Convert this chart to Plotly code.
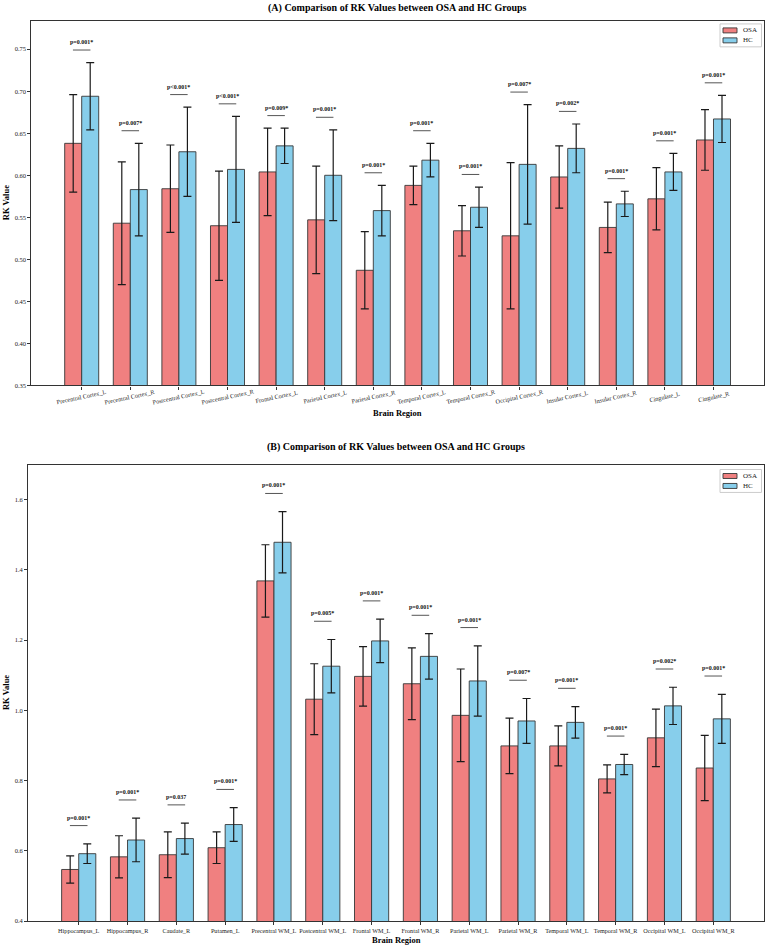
import plotly.graph_objects as go

# ---------------- data ----------------
top_regions = ["Precentral Cortex_L", "Precentral Cortex_R", "Postcentral Cortex_L", "Postcentral Cortex_R",
               "Frontal Cortex_L", "Parietal Cortex_L", "Parietal Cortex_R", "Temporal Cortex_L",
               "Temporal Cortex_R", "Occipital Cortex_R", "Insular Cortex_L", "Insular Cortex_R",
               "Cingulate_L", "Cingulate_R"]
top_osa_mean = [0.638, 0.543, 0.584, 0.540, 0.604, 0.547, 0.487, 0.588, 0.534, 0.528, 0.598, 0.538, 0.572, 0.642]
top_osa_sd = [0.058, 0.073, 0.052, 0.065, 0.052, 0.064, 0.046, 0.023, 0.030, 0.087, 0.037, 0.030, 0.037, 0.036]
top_hc_mean = [0.694, 0.583, 0.628, 0.607, 0.635, 0.600, 0.558, 0.618, 0.562, 0.613, 0.632, 0.566, 0.604, 0.667]
top_hc_sd = [0.040, 0.055, 0.053, 0.063, 0.021, 0.054, 0.030, 0.020, 0.024, 0.071, 0.029, 0.015, 0.022, 0.028]
top_p = ["p=0.001*", "p=0.007*", "p<0.001*", "p<0.001*", "p=0.009*", "p=0.001*", "p=0.001*", "p=0.001*",
         "p=0.001*", "p=0.007*", "p=0.002*", "p=0.001*", "p=0.001*", "p=0.001*"]
top_yticks = [0.35, 0.40, 0.45, 0.50, 0.55, 0.60, 0.65, 0.70, 0.75]

bot_regions = ["Hippocampus_L", "Hippocampus_R", "Caudate_R", "Putamen_L", "Precentral WM_L", "Postcentral WM_L",
               "Frontal WM_L", "Frontal WM_R", "Parietal WM_L", "Parietal WM_R", "Temporal WM_L", "Temporal WM_R",
               "Occipital WM_L", "Occipital WM_R"]
bot_osa_mean = [0.547, 0.583, 0.589, 0.609, 1.369, 1.032, 1.097, 1.076, 0.986, 0.899, 0.899, 0.805, 0.922, 0.836]
bot_osa_sd = [0.039, 0.060, 0.065, 0.045, 0.103, 0.101, 0.085, 0.102, 0.132, 0.079, 0.057, 0.040, 0.082, 0.093]
bot_hc_mean = [0.592, 0.631, 0.635, 0.675, 1.479, 1.126, 1.198, 1.154, 1.084, 0.970, 0.966, 0.846, 1.013, 0.976]
bot_hc_sd = [0.028, 0.062, 0.044, 0.048, 0.087, 0.076, 0.062, 0.065, 0.100, 0.064, 0.045, 0.029, 0.053, 0.070]
bot_p = ["p=0.001*", "p=0.001*", "p=0.037", "p=0.001*", "p=0.001*", "p=0.005*", "p=0.001*", "p=0.001*",
         "p=0.001*", "p=0.007*", "p=0.001*", "p=0.001*", "p=0.002*", "p=0.001*"]
bot_yticks = [0.4, 0.6, 0.8, 1.0, 1.2, 1.4, 1.6]

groups = ["OSA", "HC"]
titles = ["(A) Comparison of RK Values between OSA and HC Groups",
          "(B) Comparison of RK Values between OSA and HC Groups"]

# ---------------- style ----------------
W, H = 767, 950
FONT = "Liberation Serif, Times New Roman, serif"
COLORS = {"OSA": "#F08080", "HC": "#87CEEB"}
EDGE = "rgba(55,55,55,0.9)"
BW = 0.35

def py(px):  # pixel from top -> paper
    return (H - px) / H

def px_x(px):
    return px / W

fig = go.Figure()

panels = [
    dict(regions=top_regions, om=top_osa_mean, osd=top_osa_sd, hm=top_hc_mean, hsd=top_hc_sd, p=top_p,
         ticks=top_yticks, xa="x", ya="y", gap=0.015,
         xdom=[31.4 / W, 763.8 / W], ydom=[py(386.7), py(21)], yr=[0.35, 0.7836],
         title_y=8, xt_y=414.3, leg_top=24),
    dict(regions=bot_regions, om=bot_osa_mean, osd=bot_osa_sd, hm=bot_hc_mean, hsd=bot_hc_sd, p=bot_p,
         ticks=bot_yticks, xa="x2", ya="y2", gap=0.052,
         xdom=[28.2 / W, 763.8 / W], ydom=[py(924), py(466.5)], yr=[0.4, 1.699],
         title_y=448.3, xt_y=942.7, leg_top=471),
]

annotations = []
shapes = []
for k, pn in enumerate(panels):
    idx = list(range(len(pn["regions"])))
    err = dict(type="data", color="#1a1a1a", thickness=1.2, width=4)
    fig.add_trace(go.Bar(x=idx, y=pn["om"], width=BW, offset=-BW, name="OSA", showlegend=False,
                         marker=dict(color=COLORS["OSA"], line=dict(color=EDGE, width=1)),
                         error_y=dict(array=pn["osd"], **err),
                         xaxis=pn["xa"], yaxis=pn["ya"]))
    fig.add_trace(go.Bar(x=idx, y=pn["hm"], width=BW, offset=0, name="HC", showlegend=False,
                         marker=dict(color=COLORS["HC"], line=dict(color=EDGE, width=1)),
                         error_y=dict(array=pn["hsd"], **err),
                         xaxis=pn["xa"], yaxis=pn["ya"]))
    for i in idx:
        top = max(pn["om"][i] + pn["osd"][i], pn["hm"][i] + pn["hsd"][i])
        ly = top + pn["gap"]
        shapes.append(dict(type="line", xref=pn["xa"], yref=pn["ya"], x0=i - 0.18, x1=i + 0.18,
                           y0=ly, y1=ly, line=dict(color="#555555", width=1)))
        annotations.append(dict(x=i, y=ly, xref=pn["xa"], yref=pn["ya"], text="<b>" + pn["p"][i] + "</b>",
                                showarrow=False, yanchor="bottom", yshift=3,
                                font=dict(family=FONT, size=6, color="#111")))
    xc = (pn["xdom"][0] + pn["xdom"][1]) / 2
    annotations.append(dict(x=xc, y=py(pn["title_y"]), xref="paper", yref="paper",
                            text="<b>" + titles[k] + "</b>", showarrow=False,
                            xanchor="center", yanchor="middle",
                            font=dict(family=FONT, size=10, color="#000")))
    annotations.append(dict(x=xc, y=py(pn["xt_y"]), xref="paper", yref="paper",
                            text="<b>Brain Region</b>", showarrow=False,
                            xanchor="center", yanchor="middle",
                            font=dict(family=FONT, size=8.5, color="#000")))
    ymid = (pn["ydom"][0] + pn["ydom"][1]) / 2
    annotations.append(dict(x=6 / W, y=ymid, xref="paper", yref="paper",
                            text="<b>RK Value</b>", showarrow=False, textangle=-90,
                            xanchor="center", yanchor="middle",
                            font=dict(family=FONT, size=8.5, color="#000")))
    # compact legend box
    lt = pn["leg_top"]
    shapes.append(dict(type="rect", xref="paper", yref="paper", x0=px_x(720), x1=px_x(761.5),
                       y0=py(lt + 23), y1=py(lt), line=dict(color="#cccccc", width=1), fillcolor="white"))
    for j, g in enumerate(groups):
        cy = lt + 6.5 + j * 10
        shapes.append(dict(type="rect", xref="paper", yref="paper", x0=px_x(723), x1=px_x(737),
                           y0=py(cy + 2.5), y1=py(cy - 2.5), line=dict(color=EDGE, width=1),
                           fillcolor=COLORS[g]))
        annotations.append(dict(x=px_x(741), y=py(cy), xref="paper", yref="paper", text=g,
                                showarrow=False, xanchor="left", yanchor="middle",
                                font=dict(family=FONT, size=7, color="#222")))

for i, r in enumerate(top_regions):
    annotations.append(dict(x=i, y=py(397.7), xref="x", yref="paper", text=r, showarrow=False,
                            textangle=-12, xanchor="center", yanchor="middle",
                            font=dict(family=FONT, size=6.2, color="#222")))

axis_common = dict(showline=True, linecolor="#333", linewidth=1.2, mirror=True, ticks="outside",
                   ticklen=3, tickwidth=0.8, tickcolor="#333", showgrid=False, zeroline=False,
                   tickfont=dict(family=FONT, size=6.5, color="#222"))

fig.update_layout(
    width=W, height=H, autosize=False,
    margin=dict(l=0, r=0, t=0, b=0),
    paper_bgcolor="white", plot_bgcolor="white",
    showlegend=False,
    xaxis=dict(domain=panels[0]["xdom"], range=[-1.035, 14.035], anchor="y",
               tickvals=list(range(len(top_regions))), ticktext=[""] * len(top_regions), **axis_common),
    yaxis=dict(domain=panels[0]["ydom"], range=panels[0]["yr"], anchor="x",
               tickvals=top_yticks, ticktext=[f"{v:.2f}" for v in top_yticks], **axis_common),
    xaxis2=dict(domain=panels[1]["xdom"], range=[-1.035, 14.035], anchor="y2", tickangle=0,
                tickvals=list(range(len(bot_regions))), ticktext=bot_regions,
                **{**axis_common, "tickfont": dict(family=FONT, size=6.2, color="#222")}),
    yaxis2=dict(domain=panels[1]["ydom"], range=panels[1]["yr"], anchor="x2",
                tickvals=bot_yticks, ticktext=[f"{v:.1f}" for v in bot_yticks], **axis_common),
    annotations=annotations,
    shapes=shapes,
)

fig.write_html("out.html")
